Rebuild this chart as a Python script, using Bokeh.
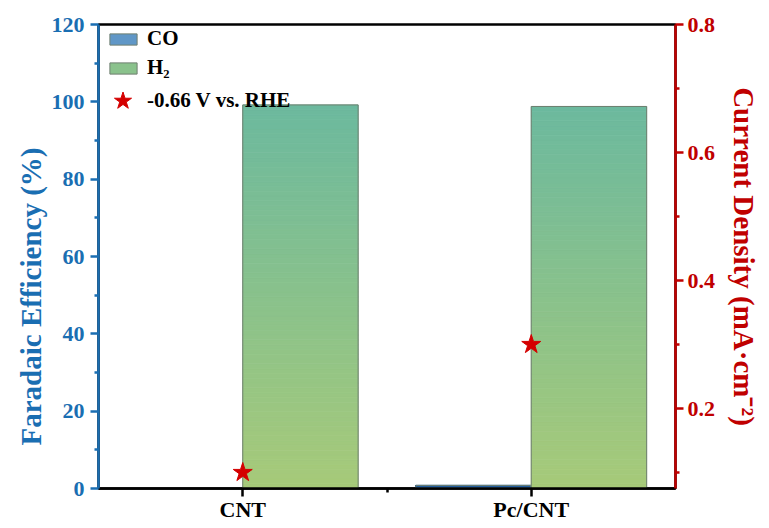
from bokeh.plotting import figure
from bokeh.models import (Range1d, LinearAxis, FixedTicker, Legend, LegendItem,
                          ColumnDataSource, Title)
from bokeh.embed import file_html
from bokeh.resources import INLINE

# --- data -------------------------------------------------------------
categories = ["CNT", "Pc/CNT"]
fe_co = [0.0, 0.8]          # Faradaic efficiency of CO (%)
fe_h2 = [99.2, 98.8]        # Faradaic efficiency of H2 (%)
current_density = [0.10, 0.30]  # mA cm^-2 at -0.66 V vs. RHE

# --- style ------------------------------------------------------------
FONT = "Liberation Serif"
BLUE = "#1a6eb2"
RED = "#c00000"
CO_TOP, CO_BOTTOM = (31, 92, 158), (160, 210, 240)
H2_TOP, H2_BOTTOM = (108, 185, 158), (167, 202, 121)
EDGE = "#6f7f70"
BAR_W = 0.4
N_SLICES = 80
TICK_FS = "22px"
TITLE_FS = "29px"
CD_RANGE = (0.075, 0.8)

xpos = [i + 1 for i in range(len(categories))]

p = figure(width=769, height=528, output_backend="svg", toolbar_location=None,
           x_range=Range1d(0.5, 2.5), y_range=Range1d(0, 120),
           min_border_left=98, min_border_right=94, min_border_top=24,
           min_border_bottom=40)
p.xgrid.visible = False
p.ygrid.visible = False
p.outline_line_color = "black"
p.outline_line_width = 2.5
p.background_fill_color = "white"
p.border_fill_color = "white"


def hexcol(c):
    return "#%02x%02x%02x" % tuple(int(round(v)) for v in c)


def gradient_bar(lefts, rights, values, c_top, c_bottom):
    """Vertical gradient bars built from thin horizontal slices."""
    l, r, b, t, col = [], [], [], [], []
    for x0, x1, v in zip(lefts, rights, values):
        if v <= 0:
            continue
        for i in range(N_SLICES):
            f = (i + 0.5) / N_SLICES
            c = [c_bottom[k] + (c_top[k] - c_bottom[k]) * f for k in range(3)]
            l.append(x0)
            r.append(x1)
            b.append(v * i / N_SLICES)
            t.append(v * (i + 1) / N_SLICES)
            col.append(hexcol(c))
    src = ColumnDataSource(dict(left=l, right=r, bottom=b, top=t, color=col))
    p.quad(left="left", right="right", bottom="bottom", top="top", source=src,
           fill_color="color", line_color="color", line_width=0.8)
    # thin outline around every bar
    p.quad(left=lefts, right=rights, bottom=[0] * len(values), top=values,
           fill_alpha=0, line_color=EDGE, line_width=1)


co_left = [x - BAR_W for x in xpos]
co_right = xpos
h2_left = xpos
h2_right = [x + BAR_W for x in xpos]

gradient_bar(co_left, co_right, fe_co, CO_TOP, CO_BOTTOM)
gradient_bar(h2_left, h2_right, fe_h2, H2_TOP, H2_BOTTOM)

# --- current density on the secondary axis -----------------------------
p.extra_y_ranges = {"cd": Range1d(*CD_RANGE)}
stars = p.scatter(x=xpos, y=current_density, y_range_name="cd", marker="star",
                  size=20, fill_color="#d40000", line_color="#d40000")

# --- axes --------------------------------------------------------------
def style_axis(ax, color):
    ax.axis_line_color = color
    ax.axis_line_width = 2.5
    ax.major_tick_line_color = color
    ax.major_tick_line_width = 2.5
    ax.major_tick_out = 8
    ax.major_tick_in = 0
    ax.minor_tick_line_color = color
    ax.minor_tick_line_width = 2.5
    ax.minor_tick_out = 4
    ax.minor_tick_in = 0
    ax.major_label_text_font = FONT
    ax.major_label_text_font_style = "bold"
    ax.major_label_text_font_size = TICK_FS
    ax.major_label_text_color = color
    ax.axis_label_text_font = FONT
    ax.axis_label_text_font_style = "bold"
    ax.axis_label_text_font_size = TITLE_FS
    ax.axis_label_text_color = color


xa = p.xaxis[0]
xa.ticker = FixedTicker(ticks=xpos, minor_ticks=[1.5])
xa.major_label_overrides = {x: c for x, c in zip(xpos, categories)}
style_axis(xa, "black")
xa.major_label_standoff = 0

ya = p.yaxis[0]
ya.ticker = FixedTicker(ticks=[0, 20, 40, 60, 80, 100, 120],
                        minor_ticks=[10, 30, 50, 70, 90, 110])
style_axis(ya, BLUE)
ya.major_label_standoff = 6

ra = LinearAxis(y_range_name="cd")
ra.ticker = FixedTicker(ticks=[0.2, 0.4, 0.6, 0.8], minor_ticks=[0.1, 0.3, 0.5, 0.7])
style_axis(ra, RED)
ra.major_label_standoff = 4
ra.axis_label = "Current Density (mA\u00b7cm\u207b\u00b2)"
ra.axis_label_standoff = 10
p.add_layout(ra, "right")

# left axis title as a side title, so that it can be shifted along the axis
p.add_layout(Title(text="Faradaic Efficiency (%)", align="left", offset=43,
                   text_font=FONT, text_font_style="bold",
                   text_font_size=TITLE_FS, text_color=BLUE, standoff=4),
             "left")

# --- legend ------------------------------------------------------------
# zero-size keys hidden under the axes corner, used only for legend swatches
co_key = p.quad(left=[0.5], right=[0.5], bottom=[0], top=[0],
                fill_color=hexcol([(a + b) / 2 for a, b in zip(CO_TOP, CO_BOTTOM)]),
                line_color=EDGE, line_width=1)
h2_key = p.quad(left=[0.5], right=[0.5], bottom=[0], top=[0],
                fill_color=hexcol([(a + b) / 2 for a, b in zip(H2_TOP, H2_BOTTOM)]),
                line_color=EDGE, line_width=1)

legend_common = dict(background_fill_alpha=0, border_line_alpha=0, margin=0,
                     padding=0, label_text_font=FONT, label_text_font_style="bold",
                     label_text_font_size="21px", label_text_color="black")

bars_legend = Legend(items=[LegendItem(label="CO", renderers=[co_key]),
                            LegendItem(label="H\u2082", renderers=[h2_key])],
                     location=(8, 408), spacing=4, glyph_width=34, glyph_height=14,
                     label_height=22, label_standoff=7, **legend_common)
star_legend = Legend(items=[LegendItem(label="-0.66 V vs. RHE", renderers=[stars])],
                     location=(2, 365), glyph_width=45, glyph_height=45,
                     label_height=22, label_standoff=2, **legend_common)
p.add_layout(bars_legend)
p.add_layout(star_legend)

open("out.html", "w").write(file_html(p, INLINE))
